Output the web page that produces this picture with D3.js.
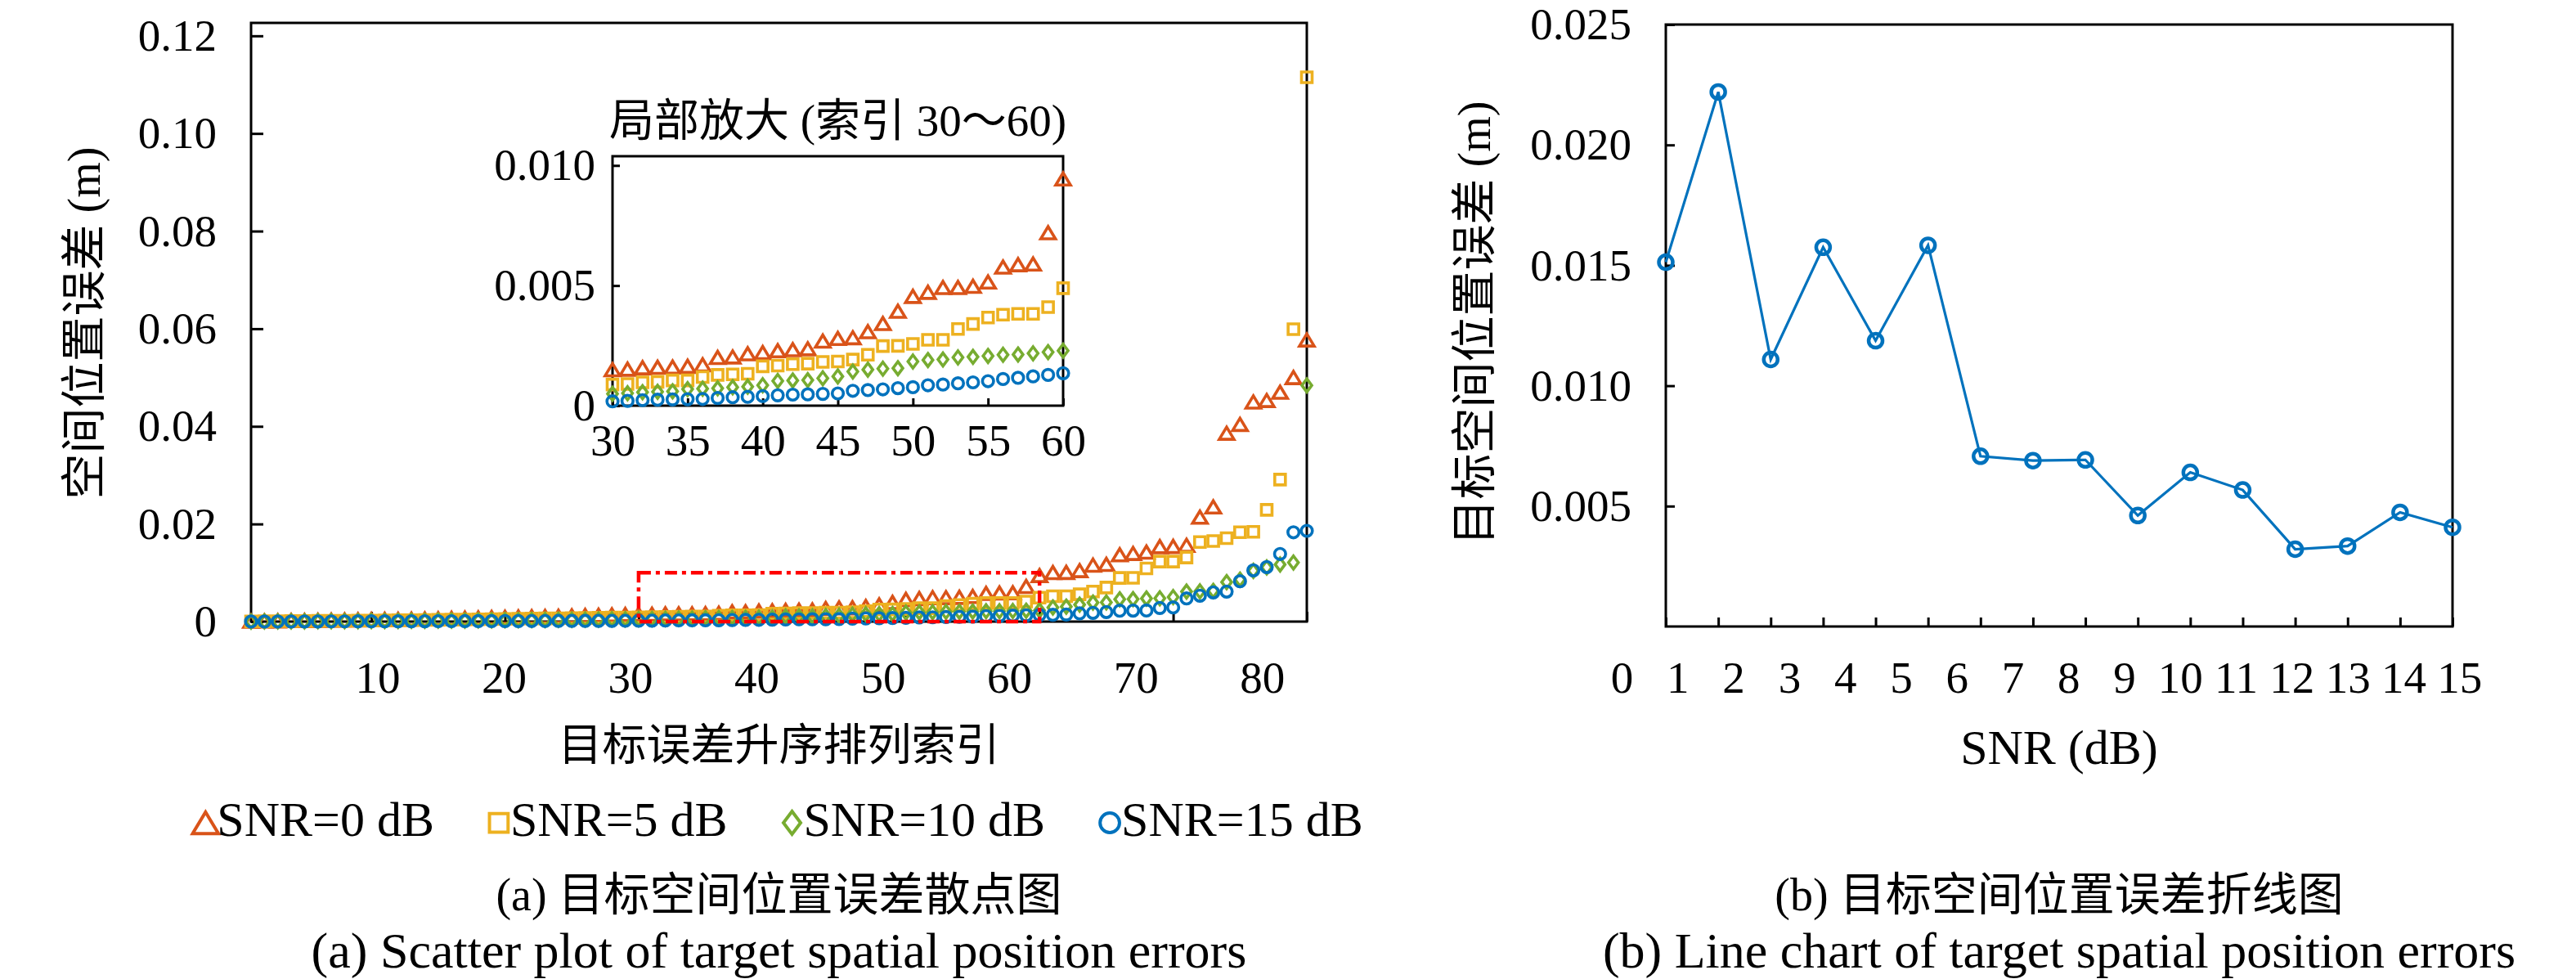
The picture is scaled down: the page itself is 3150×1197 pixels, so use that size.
<!DOCTYPE html>
<html>
<head>
<meta charset="utf-8">
<script src="https://cdn.jsdelivr.net/npm/d3@7"></script>
<style>
  body { margin: 0; background: #fff; }
  svg text { font-family: 'Liberation Serif', 'Noto Sans CJK SC', serif; fill: #000; }
</style>
</head>
<body>
<div id="chart"></div>
<script>
'use strict';

// sorted spatial errors (m), sample index 1..80
const errSnr0 = [
  0.0001, 0.00012, 0.00015, 0.0002, 0.00022, 0.00026, 0.0003, 0.00033, 0.00036, 0.0004,
  0.00045, 0.00048, 0.00052, 0.00055, 0.0006, 0.00065, 0.0007, 0.00076, 0.00085, 0.0009,
  0.00095, 0.001, 0.00105, 0.0011, 0.00118, 0.00124, 0.0013, 0.00138, 0.00145,
  0.0015, 0.00152, 0.00158, 0.0016, 0.00161, 0.00164, 0.0017, 0.00201, 0.00203, 0.00216,
  0.00221, 0.00229, 0.00233, 0.00237, 0.00269, 0.0028, 0.00283, 0.00308, 0.00342, 0.00393,
  0.00455, 0.00472, 0.00492, 0.00492, 0.00497, 0.00515, 0.00577, 0.00587, 0.0059, 0.0072, 0.00944,
  0.01006, 0.01008, 0.01045, 0.01157, 0.01173, 0.01369, 0.01397, 0.01425, 0.01536, 0.0154,
  0.01564, 0.0214, 0.0235, 0.0386, 0.0404, 0.045, 0.0453, 0.047, 0.05, 0.0577,
];
const errSnr5 = [
  0.00005, 0.00006, 0.00008, 0.0001, 0.00012, 0.00014, 0.00016, 0.00018, 0.0002, 0.00022,
  0.00025, 0.00028, 0.0003, 0.00033, 0.00036, 0.00039, 0.00042, 0.00045, 0.0005, 0.00054,
  0.00058, 0.00062, 0.00065, 0.00068, 0.00071, 0.00074, 0.00078, 0.00082, 0.00085,
  0.00088, 0.0009, 0.00097, 0.00099, 0.00105, 0.00105, 0.00119, 0.00128, 0.0013, 0.00133,
  0.00164, 0.00167, 0.00173, 0.00175, 0.00182, 0.00184, 0.00192, 0.00212, 0.00248, 0.00249,
  0.00257, 0.00274, 0.00274, 0.00319, 0.0034, 0.00367, 0.00379, 0.00382, 0.00382, 0.0041, 0.00489,
  0.0052, 0.0052, 0.00559, 0.00615, 0.00698, 0.00894, 0.00896, 0.0109, 0.01229, 0.0123,
  0.01313, 0.0163, 0.0165, 0.0171, 0.0183, 0.0184, 0.0229, 0.0291, 0.0599, 0.1115,
];
const errSnr10 = [
  0.00002, 0.00003, 0.00004, 0.00005, 0.00006, 0.00007, 0.00008, 0.00009, 0.0001, 0.00012,
  0.00013, 0.00014, 0.00016, 0.00017, 0.00019, 0.0002, 0.00022, 0.00024, 0.00026, 0.00028,
  0.0003, 0.00032, 0.00034, 0.00036, 0.00038, 0.0004, 0.00042, 0.00045, 0.00047,
  0.00049, 0.00052, 0.00056, 0.00058, 0.0006, 0.00069, 0.00071, 0.00072, 0.00077, 0.00079,
  0.00085, 0.00103, 0.00105, 0.00106, 0.00114, 0.00122, 0.00142, 0.0015, 0.00154, 0.00156,
  0.00184, 0.0019, 0.00192, 0.00201, 0.00203, 0.00207, 0.00212, 0.00213, 0.00218, 0.00223, 0.00229,
  0.0029, 0.00307, 0.00346, 0.00391, 0.00393, 0.00458, 0.0046, 0.00475, 0.00477, 0.00503,
  0.00615, 0.0062, 0.0063, 0.0081, 0.0086, 0.0104, 0.0111, 0.0117, 0.0121, 0.0484,
];
const errSnr15 = [
  0.00001, 0.00001, 0.00002, 0.00002, 0.00003, 0.00003, 0.00004, 0.00004, 0.00005, 0.00005,
  0.00006, 0.00006, 0.00007, 0.00007, 0.00008, 0.00008, 0.00009, 0.0001, 0.0001, 0.00011,
  0.00011, 0.00012, 0.00012, 0.00013, 0.00014, 0.00014, 0.00015, 0.00016, 0.00017,
  0.00018, 0.0002, 0.00023, 0.00025, 0.00026, 0.00027, 0.00028, 0.00032, 0.00035, 0.00037,
  0.0004, 0.00043, 0.00046, 0.00047, 0.00049, 0.00051, 0.00062, 0.00065, 0.00068, 0.00073,
  0.00077, 0.00085, 0.00088, 0.00093, 0.00097, 0.00102, 0.00111, 0.00116, 0.00122, 0.00128, 0.00135,
  0.0014, 0.00145, 0.00168, 0.00179, 0.00196, 0.00223, 0.00225, 0.00228, 0.00279, 0.0029,
  0.00475, 0.00531, 0.00598, 0.00615, 0.00827, 0.0105, 0.01117, 0.01386, 0.0183, 0.0186,
];

const seriesNames = ['SNR=0 dB', 'SNR=5 dB', 'SNR=10 dB', 'SNR=15 dB'];
const seriesColors = ['#D95319', '#EDB120', '#77AC30', '#0072BD'];
const seriesMarkers = ['triangle', 'square', 'diamond', 'circle'];

// mean error per SNR
const snrDb = [0, 1, 2, 3, 4, 5, 6, 7, 8, 9, 10, 11, 12, 13, 14, 15];
const snrErr = [
  0.01513, 0.0222, 0.01109, 0.01575, 0.01187, 0.01583, 0.00707, 0.00689,
  0.00692, 0.00461, 0.0064, 0.00567, 0.00321, 0.00334, 0.00474, 0.00412,
];

const mainXTicks = [10, 20, 30, 40, 50, 60, 70, 80];
const mainYTicks = [0, 0.02, 0.04, 0.06, 0.08, 0.10, 0.12];
const zoomRange = [30, 60];
const zoomYTop = 0.01;
const insetXTicks = [30, 35, 40, 45, 50, 55, 60];
const insetYTicks = [0, 0.005, 0.010];
const lineXTicks = [0, 1, 2, 3, 4, 5, 6, 7, 8, 9, 10, 11, 12, 13, 14, 15];
const lineYTicks = [0.005, 0.010, 0.015, 0.020, 0.025];

const W = 3150, H = 1197;
const mainBox = {left: 307, right: 1598, top: 28, bottom: 760};
const insetBox = {left: 749, right: 1300, top: 191, bottom: 496};
const lineBox = {left: 2037, right: 2999, top: 30, bottom: 766};

const svg = d3.select('#chart').append('svg')
  .attr('width', W).attr('height', H)
  .attr('viewBox', `0 0 ${W} ${H}`);
svg.append('rect').attr('width', W).attr('height', H).attr('fill', 'white');

/**
 * hollow matlab-like marker outline centred on 0,0
 */
function markerPath(type, k=1) {
  if (type === 'triangle') {
    const w = 9 * k, h = 7.5 * k;
    return `M${-w},${h}L${w},${h}L0,${-h}Z`;
  }
  if (type === 'square') {
    const s = 6.5 * k;
    return `M${-s},${-s}H${s}V${s}H${-s}Z`;
  }
  if (type === 'diamond') {
    const w = 6 * k, h = 8 * k;
    return `M0,${-h}L${w},0L0,${h}L${-w},0Z`;
  }
  const r = 6.8 * k;
  return `M${r},0A${r},${r} 0 1,1 ${-r},0A${r},${r} 0 1,1 ${r},0Z`;
}

function buildSeries() {
  return [errSnr0, errSnr5, errSnr10, errSnr15].map((vals, s) => ({
    name: seriesNames[s],
    color: seriesColors[s],
    marker: seriesMarkers[s],
    points: vals.map((v, i) => ({ind: i + 1, err: v})),
  }));
}

function frame(g, box, width=3) {
  g.append('rect')
    .attr('x', box.left).attr('y', box.top)
    .attr('width', box.right - box.left).attr('height', box.bottom - box.top)
    .attr('fill', 'none').attr('stroke', '#000').attr('stroke-width', width);
}

// only tick marks, pointing into the plot
function innerTicks(g, axis, transform) {
  const t = g.append('g').attr('transform', transform).call(axis.tickFormat(''));
  t.select('.domain').remove();
  t.selectAll('line').attr('stroke', '#000').attr('stroke-width', 3);
  return t;
}

// only labels
function tickLabels(g, axis, transform, fontSize) {
  const t = g.append('g').attr('transform', transform).call(axis.tickSize(0));
  t.select('.domain').remove();
  t.attr('font-family', null).attr('font-size', fontSize);
  t.selectAll('text').attr('fill', '#000');
  return t;
}

function drawMarkers(g, series, x, y) {
  series.forEach(s => {
    g.append('g').selectAll('path')
      .data(s.points)
      .join('path')
        .attr('d', markerPath(s.marker))
        .attr('transform', d => `translate(${x(d.ind)},${y(d.err)})`)
        .attr('fill', 'none')
        .attr('stroke', s.color)
        .attr('stroke-width', 3.6);
  });
}

function yFormat(d) {
  return d === 0 ? '0' : d3.format('.2f')(d);
}

function drawScatter(series) {
  const g = svg.append('g').attr('id', 'scatter');
  const allErr = d3.max(series, s => d3.max(s.points, p => p.err));
  const x = d3.scaleLinear().domain([1, series[0].points.length])
    .range([mainBox.left, mainBox.right]);
  // tick labels were typeset on a slightly wider scale than the data
  const xLab = d3.scaleLinear().domain([0, 83.55]).range([mainBox.left, mainBox.right]);
  const y = d3.scaleLinear().domain([0, allErr * 1.1]).range([mainBox.bottom, mainBox.top]);

  frame(g, mainBox);
  innerTicks(g, d3.axisBottom(x).tickValues(mainXTicks).tickSize(-12),
             `translate(0,${mainBox.bottom})`);
  innerTicks(g, d3.axisLeft(y).tickValues(mainYTicks).tickSize(-15),
             `translate(${mainBox.left},0)`);
  tickLabels(g, d3.axisBottom(xLab).tickValues(mainXTicks).tickPadding(48),
             `translate(0,${mainBox.bottom})`, 55);
  tickLabels(g, d3.axisLeft(y).tickValues(mainYTicks).tickFormat(yFormat).tickPadding(42),
             `translate(${mainBox.left},0)`, 55);

  drawMarkers(g, series, x, y);

  // zoomed region
  g.append('rect')
    .attr('x', x(zoomRange[0])).attr('y', y(zoomYTop))
    .attr('width', x(zoomRange[1]) - x(zoomRange[0]))
    .attr('height', y(0) - y(zoomYTop))
    .attr('fill', 'none').attr('stroke', '#FF0000').attr('stroke-width', 4.5)
    .attr('stroke-dasharray', '15,6,5,6');

  g.append('text')
    .attr('transform', 'translate(103,395) rotate(-90)')
    .attr('text-anchor', 'middle').attr('dominant-baseline', 'central')
    .attr('font-size', 56).text('空间位置误差 (m)');
  g.append('text')
    .attr('x', (mainBox.left + mainBox.right) / 2).attr('y', 912)
    .attr('text-anchor', 'middle').attr('dominant-baseline', 'central')
    .attr('font-size', 54).text('目标误差升序排列索引');

  drawInset(g, series);
  drawLegend(g, series, (mainBox.left + mainBox.right) / 2, 1002);
  caption(g, (mainBox.left + mainBox.right) / 2, '(a) 目标空间位置误差散点图',
          '(a) Scatter plot of target spatial position errors');
}

function drawInset(parent, series) {
  const g = parent.append('g').attr('id', 'inset');
  const part = series.map(s => Object.assign({}, s, {
    points: s.points.filter(p => p.ind >= zoomRange[0] && p.ind <= zoomRange[1]),
  }));
  const top = d3.max(part, s => d3.max(s.points, p => p.err));
  const x = d3.scaleLinear().domain(zoomRange).range([insetBox.left, insetBox.right]);
  const y = d3.scaleLinear().domain([0, top * 1.1]).range([insetBox.bottom, insetBox.top]);

  g.append('rect')
    .attr('x', insetBox.left).attr('y', insetBox.top)
    .attr('width', insetBox.right - insetBox.left)
    .attr('height', insetBox.bottom - insetBox.top)
    .attr('fill', 'white');
  frame(g, insetBox);
  innerTicks(g, d3.axisBottom(x).tickValues(insetXTicks).tickSize(-9),
             `translate(0,${insetBox.bottom})`);
  innerTicks(g, d3.axisLeft(y).tickValues(insetYTicks).tickSize(-9),
             `translate(${insetBox.left},0)`);
  tickLabels(g, d3.axisBottom(x).tickValues(insetXTicks).tickPadding(22),
             `translate(0,${insetBox.bottom})`, 55);
  tickLabels(g, d3.axisLeft(y).tickValues(insetYTicks)
               .tickFormat(d => d === 0 ? '0' : d3.format('.3f')(d)).tickPadding(21),
             `translate(${insetBox.left},0)`, 55);

  drawMarkers(g, part, x, y);

  g.append('text')
    .attr('x', (insetBox.left + insetBox.right) / 2).attr('y', 147)
    .attr('text-anchor', 'middle').attr('dominant-baseline', 'central')
    .attr('font-size', 55).text('局部放大 (索引 30～60)');
}

function drawLegend(parent, series, cx, cy) {
  const g = parent.append('g').attr('id', 'legend');
  let cursor = 0;
  series.forEach((s, i) => {
    const item = g.append('g').attr('transform', `translate(${cursor},0)`);
    item.append('path')
      .attr('d', markerPath(s.marker, 1.75))
      .attr('transform', 'translate(13,4)')
      .attr('fill', 'none').attr('stroke', s.color).attr('stroke-width', 4);
    const t = item.append('text')
      .attr('x', 27).attr('y', 0)
      .attr('dominant-baseline', 'central')
      .attr('font-size', 60).text(s.name);
    cursor += 27 + t.node().getComputedTextLength() + (i < series.length - 1 ? 66 : 0);
  });
  g.attr('transform', `translate(${cx - cursor / 2},${cy})`);
}

function caption(parent, cx, zh, en) {
  parent.append('text')
    .attr('x', cx).attr('y', 1094)
    .attr('text-anchor', 'middle').attr('dominant-baseline', 'central')
    .attr('font-size', 56).text(zh);
  parent.append('text')
    .attr('x', cx).attr('y', 1162)
    .attr('text-anchor', 'middle').attr('dominant-baseline', 'central')
    .attr('font-size', 62).text(en);
}

function drawLine() {
  const g = svg.append('g').attr('id', 'line-chart');
  const x = d3.scaleLinear().domain([0, 15]).range([lineBox.left, lineBox.right]);
  // same story as the scatter: labels sit on a stretched scale
  const xLab = d3.scaleLinear().domain([0.79, 14.88]).range([lineBox.left, lineBox.right]);
  const y = d3.scaleLinear().domain([0, 0.025]).range([lineBox.bottom, lineBox.top]);

  frame(g, lineBox);
  innerTicks(g, d3.axisBottom(x).tickValues(lineXTicks).tickSize(-11),
             `translate(0,${lineBox.bottom})`);
  innerTicks(g, d3.axisLeft(y).tickValues(lineYTicks).tickSize(-11),
             `translate(${lineBox.left},0)`);
  tickLabels(g, d3.axisBottom(xLab).tickValues(lineXTicks).tickPadding(42),
             `translate(0,${lineBox.bottom})`, 55);
  tickLabels(g, d3.axisLeft(y).tickValues(lineYTicks).tickFormat(d3.format('.3f')).tickPadding(42),
             `translate(${lineBox.left},0)`, 55);

  const pts = snrDb.map((d, i) => ({snr: d, err: snrErr[i]}));
  g.append('path')
    .datum(pts)
    .attr('d', d3.line().x(d => x(d.snr)).y(d => y(d.err)))
    .attr('fill', 'none').attr('stroke', '#0072BD').attr('stroke-width', 3.2);
  g.append('g').selectAll('circle')
    .data(pts)
    .join('circle')
      .attr('cx', d => x(d.snr)).attr('cy', d => y(d.err))
      .attr('r', 8.5)
      .attr('fill', 'none').attr('stroke', '#0072BD').attr('stroke-width', 4.5);

  g.append('text')
    .attr('transform', 'translate(1803,395) rotate(-90)')
    .attr('text-anchor', 'middle').attr('dominant-baseline', 'central')
    .attr('font-size', 56).text('目标空间位置误差 (m)');
  g.append('text')
    .attr('x', (lineBox.left + lineBox.right) / 2).attr('y', 914)
    .attr('text-anchor', 'middle').attr('dominant-baseline', 'central')
    .attr('font-size', 60).text('SNR (dB)');

  caption(g, (lineBox.left + lineBox.right) / 2, '(b) 目标空间位置误差折线图',
          '(b) Line chart of target spatial position errors');
}

drawScatter(buildSeries());
drawLine();
</script>
</body>
</html>
